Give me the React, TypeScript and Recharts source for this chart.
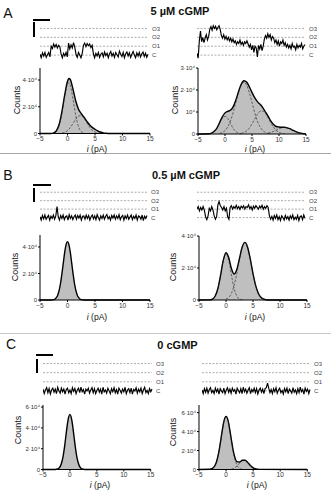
import React from 'react';
import { ComposedChart, Area, Line, XAxis, YAxis, LineChart, ReferenceLine } from 'recharts';

const FONT = '"Liberation Sans", Arial, "DejaVu Sans", sans-serif';

// ---------- titles & labels ----------
const PANEL_LETTERS = ['A', 'B', 'C'];
const PANEL_TITLES = ['5 µM cGMP', '0.5 µM cGMP', '0 cGMP'];
const LEVELS = [0, 1, 2, 3];
const LEVEL_LABELS = ['C', 'O1', 'O2', 'O3'];
const X_TICKS = [-5, 0, 5, 10, 15];

// ---------- single-channel traces (levels: C=0, O1=1, O2=2, O3=3) ----------
const TRACE_A_L = [0.1,-0.3,0.25,-0.1,0.3,-0.25,0.05,0.3,-0.2,
 1.0,0.75,1.25,0.9,1.2,0.8,1.1,0.95,
 0.1,-0.3,0.2,-0.1,0.3,-0.2,
 1.35,0.7,1.15,0.8,1.4,0.9,
 0.1,-0.25,0.3,0.0,-0.3,0.2,
 1.1,1.35,0.95,1.3,1.05,1.25,0.85,1.1,
 0.15,-0.3,0.2,-0.1,0.3,-0.25,0.1,0.25,-0.2,0.35,-0.05,0.2,-0.3,0.15,0.4,-0.1,0.2,-0.25,0.3,0.05,-0.2,0.45,0.1,-0.15,0.3,-0.3,0.15,0.35,-0.1,0.25,-0.25,0.1,0.4,0.0,-0.3,0.25,-0.1,0.3,-0.2,0.15,0.35,-0.15,0.2,-0.25,0.1];
const TRACE_A_R = [0.2,-0.35,1.6,2.7,1.5,2.0,1.4,1.9,2.3,1.7,2.1,
 2.9,3.2,2.8,3.3,3.0,3.25,2.85,3.1,3.3,2.9,
 2.2,1.9,2.3,1.8,2.1,1.7,2.0,1.6,1.9,1.5,1.8,
 1.4,1.6,1.2,1.5,1.3,1.7,1.2,1.45,1.1,1.5,1.3,1.6,1.25,
 0.9,1.2,0.6,1.1,0.3,1.0,0.8,-0.2,1.1,0.7,1.2,0.5,1.0,
 1.8,2.2,1.9,2.4,2.0,2.3,1.7,2.1,1.9,
 1.4,1.7,1.2,1.6,1.0,1.5,1.3,1.7,1.1,1.4,
 0.9,1.2,0.8,1.1,0.7,1.3,0.9,1.0,0.6,1.2,0.8,1.1,0.9,1.3,0.7,1.0,1.2];
const TRACE_B_L = [0.1,-0.3,0.25,-0.15,0.3,-0.2,0.05,0.25,-0.3,0.15,-0.1,0.3,-0.2,0.2,1.3,0.1,-0.3,0.25,-0.1,0.3,-0.25,0.1,0.2,-0.3,0.35,-0.1,0.2,-0.25,0.1,0.3,-0.2,0.25,-0.05,0.3,-0.3,0.15,0.2,-0.2,0.3,-0.1,0.25,-0.3,0.1,0.3,-0.15,0.2,-0.25,0.35,0.0,-0.3,0.2,-0.1,0.3,-0.2,0.15,0.35,-0.15,0.1,-0.3,0.25,-0.05,0.3,-0.2,0.2,-0.1,0.35,-0.25,0.1,0.25,-0.3,0.2,-0.1,0.3,-0.2,0.05,0.3,-0.25,0.15,-0.1,0.3,-0.3,0.2,0.1,-0.2,0.3,-0.35,0.15,-0.1,0.25];
const TRACE_B_R = [1.0,1.3,0.8,1.2,0.9,1.3,0.85,
 0.1,-0.25,0.2,
 1.1,0.8,1.3,0.9,
 0.2,-0.2,0.1,
 1.5,1.9,1.4,
 1.2,0.9,1.3,0.8,1.1,
 0.1,-0.2,
 1.2,1.4,1.0,1.3,1.1,1.45,1.05,1.3,0.95,1.35,1.15,1.4,1.0,1.3,1.2,1.5,1.05,1.3,0.9,1.35,1.1,1.4,1.2,1.0,1.35,1.15,1.45,1.0,1.3,1.1,1.4,1.2,
 0.2,-0.2,0.15,-0.3,0.25,-0.1,0.3,-0.25,0.1,-0.35,0.2,0.0,-0.3,0.25,-0.15,0.1,-0.3,0.2,-0.1,0.3,-0.25,0.05,-0.2,0.25,-0.35,0.1,0.2,-0.25,0.3,-0.1];
const TRACE_C_L = [0.2,-0.3,0.1,0.35,-0.2,0.25,-0.35,0.1,0.3,-0.15,0.2,-0.3,0.4,0.0,-0.25,0.3,-0.1,0.2,-0.35,0.15,0.3,-0.2,0.1,-0.3,0.35,-0.05,0.25,-0.3,0.1,0.3,-0.2,0.4,-0.1,0.15,-0.35,0.2,0.0,0.3,-0.25,0.1,0.35,-0.2,0.25,-0.3,0.05,0.3,-0.15,0.2,-0.35,0.4,-0.1,0.1,-0.25,0.3,0.0,-0.3,0.25,-0.1,0.35,-0.2,0.15,-0.35,0.3,0.05,-0.25,0.2,-0.1,0.4,-0.3,0.1,0.25,-0.2,0.3,-0.35,0.15,0.0,0.35,-0.25,0.2,-0.1,0.3,-0.3,0.1,0.4,-0.2,0.05,-0.3,0.25,-0.1,0.2];
const TRACE_C_R = [0.1,-0.3,0.25,-0.15,0.3,-0.25,0.15,0.35,-0.2,0.05,-0.3,0.3,-0.1,0.2,-0.35,0.25,0.0,-0.2,0.3,-0.3,0.1,0.35,-0.15,0.2,-0.25,0.3,-0.05,0.15,-0.35,0.3,0.05,-0.2,0.25,-0.3,0.4,-0.1,0.2,-0.25,0.1,0.35,-0.3,0.15,-0.1,0.3,-0.2,0.25,-0.35,0.1,0.3,-0.15,0.2,-0.3,0.25,0.35,0.85,0.3,-0.2,0.15,-0.3,0.25,-0.1,0.35,-0.25,0.1,0.3,-0.2,0.05,-0.35,0.25,-0.1,0.3,-0.3,0.2,0.0,-0.25,0.35,-0.15,0.1,-0.3,0.25,-0.2,0.4,-0.1,0.15,-0.35,0.3,-0.05,0.2,-0.3,0.15];

// ---------- amplitude histograms (current in pA, counts in 10^4) ----------
const HX_A_L = [-5,-3,-2.5,-2,-1.5,-1,-0.5,0,0.25,0.5,1,1.5,2,2.5,3,3.5,4,4.5,5,5.5,6,6.5,7,7.5,15];
const HT_A_L = [0,0,0.05,0.22,0.71,1.68,2.90,3.91,4.11,4.04,3.31,2.43,1.82,1.49,1.22,0.92,0.65,0.46,0.32,0.20,0.11,0.05,0.02,0,0];
const HC1_A_L = [null,null,0.04,0.19,0.64,1.56,2.81,3.70,3.80,3.60,2.56,1.35,0.51,0.14,0.03,null,null,null,null,null,null,null,null,null,null];
const HC2_A_L = [null,null,null,null,null,0.03,0.09,0.21,0.31,0.44,0.75,1.08,1.31,1.33,1.14,0.82,0.50,0.25,0.11,0.04,0.01,null,null,null,null];

const HX_A_R = [-5,-3,-2.5,-2,-1.5,-1,-0.5,0,0.5,1,1.5,2,2.5,3,3.5,4,4.5,5,5.5,6,6.5,7,7.5,8,8.5,9,9.5,10,10.5,11,11.5,12,12.5,13,13.5,14,14.5,15];
const HT_A_R = [0,0.01,0.04,0.12,0.27,0.52,0.78,0.96,1.03,1.08,1.23,1.54,1.92,2.26,2.42,2.36,2.15,1.89,1.65,1.47,1.35,1.20,1.0,0.80,0.59,0.43,0.34,0.32,0.31,0.31,0.28,0.24,0.18,0.12,0.075,0.04,0.015,0];
const HC1_A_R = [null,0.01,0.035,0.11,0.26,0.49,0.71,0.8,0.71,0.49,0.26,0.11,0.035,0.01,null,null,null,null,null,null,null,null,null,null,null,null,null,null,null,null,null,null,null,null,null,null,null,null];
const HC2_A_R = [null,null,null,null,null,0.026,0.067,0.155,0.32,0.585,0.97,1.43,1.88,2.22,2.35,2.22,1.88,1.43,0.97,0.585,0.32,0.155,0.067,0.026,0.01,null,null,null,null,null,null,null,null,null,null,null,null,null];
const HC3_A_R = [null,null,null,null,null,null,null,null,null,null,null,null,null,0.03,0.065,0.14,0.27,0.46,0.68,0.89,1.03,1.04,0.93,0.73,0.50,0.31,0.16,0.08,0.03,0.01,null,null,null,null,null,null,null,null];
const HC4_A_R = [null,null,null,null,null,null,null,null,null,null,null,null,null,null,null,null,null,null,null,null,null,null,null,0.04,0.075,0.12,0.18,0.24,0.28,0.30,0.28,0.24,0.18,0.12,0.075,0.04,0.015,null];

const HX_B_L = [-5,-3,-2.5,-2.25,-2,-1.75,-1.5,-1.25,-1,-0.75,-0.5,-0.25,0,0.25,0.5,0.75,1,1.25,1.5,1.75,2,2.25,2.5,3,15];
const HT_B_L = [0,0,0.03,0.08,0.19,0.40,0.76,1.30,2.02,2.83,3.62,4.19,4.4,4.19,3.62,2.83,2.02,1.30,0.76,0.40,0.19,0.08,0.03,0,0];

const HX_B_R = [-5,-3,-2.5,-2,-1.5,-1,-0.5,0,0.5,1,1.5,2,2.5,3,3.5,4,4.5,5,5.5,6,6.5,7,7.5,8,15];
const HT_B_R = [0,0.01,0.06,0.25,0.72,1.56,2.49,2.95,2.65,1.97,1.62,1.90,2.61,3.31,3.60,3.30,2.55,1.65,0.90,0.41,0.16,0.05,0.01,0,0];
const HC1_B_R = [null,0.01,0.06,0.25,0.72,1.56,2.49,2.9,2.49,1.56,0.72,0.25,0.06,0.01,null,null,null,null,null,null,null,null,null,null,null];
const HC2_B_R = [null,null,null,null,null,null,null,0.05,0.16,0.41,0.90,1.65,2.55,3.30,3.6,3.30,2.55,1.65,0.90,0.41,0.16,0.05,0.01,null,null];

const HX_C_L = [-5,-3,-2.5,-2,-1.75,-1.5,-1.25,-1,-0.75,-0.5,-0.25,0,0.25,0.5,0.75,1,1.25,1.5,1.75,2,2.5,3,15];
const HT_C_L = [0,0,0.02,0.15,0.35,0.72,1.32,2.18,3.22,4.24,5.01,5.3,5.01,4.24,3.22,2.18,1.32,0.72,0.35,0.15,0.02,0,0];

const HX_C_R = [-5,-3,-2.5,-2,-1.75,-1.5,-1.25,-1,-0.75,-0.5,-0.25,0,0.25,0.5,0.75,1,1.25,1.5,2,2.5,3,3.5,4,4.5,5,5.5,6,15];
const HT_C_R = [0,0.02,0.12,0.48,0.85,1.40,2.13,3.02,3.96,4.80,5.39,5.6,5.39,4.80,3.96,3.06,2.21,1.54,0.83,0.79,0.97,0.98,0.74,0.41,0.17,0.05,0.01,0];
const HC1_C_R = [null,0.02,0.12,0.48,0.85,1.40,2.13,3.02,3.96,4.80,5.39,5.6,5.39,4.80,3.96,3.02,2.13,1.40,0.48,0.12,0.02,null,null,null,null,null,null,null];
const HC2_C_R = [null,null,null,null,null,null,null,null,null,null,null,null,null,null,null,0.04,0.08,0.14,0.35,0.67,0.95,0.98,0.74,0.41,0.17,0.05,0.01,null];

const Y_TICKS_A_L = [0, 2, 4];
const Y_LABELS_A_L = ['0', '2·10⁴', '4·10⁴'];
const Y_TICKS_A_R = [0, 1, 2, 3];
const Y_LABELS_A_R = ['0', '10⁴', '2·10⁴', '3·10⁴'];
const Y_TICKS_B = [0, 2, 4];
const Y_LABELS_B = ['0', '2·10⁴', '4·10⁴'];
const Y_TICKS_C = [0, 2, 4, 6];
const Y_LABELS_C = ['0', '2·10⁴', '4·10⁴', '6·10⁴'];

const fmtX = (v: number) => (v < 0 ? '−' + Math.abs(v) : String(v));

function Txt({ x, y, size, bold, children, color }: any) {
  return (
    <div style={{ position: 'absolute', left: x, top: y, transform: 'translate(-50%,-50%)', fontSize: size, fontWeight: bold ? 'bold' : 'normal', whiteSpace: 'nowrap', lineHeight: 1, color: color || '#111' }}>
      {children}
    </div>
  );
}

function VTxt({ x, y, size, children }: any) {
  return (
    <div style={{ position: 'absolute', left: x, top: y, transform: 'translate(-50%,-50%) rotate(-90deg)', fontSize: size, whiteSpace: 'nowrap', lineHeight: 1, color: '#111' }}>
      {children}
    </div>
  );
}

function Bar({ x, y, w, h }: any) {
  return <div style={{ position: 'absolute', left: x, top: y, width: w, height: h, background: '#000' }} />;
}

function Trace({ left, top, plotW, ppl, values }: any) {
  const H = Math.round(4.5 * ppl);
  const MR = 22;
  const data = values.map((v: number, i: number) => ({ i, v }));
  return (
    <div style={{ position: 'absolute', left, top }}>
      <LineChart width={plotW + MR} height={H} data={data} margin={{ top: 0, right: MR, bottom: 0, left: 0 }}>
        <XAxis dataKey="i" type="number" domain={[0, values.length - 1]} hide />
        <YAxis type="number" domain={[-1, 3.5]} hide />
        {LEVELS.map((lv, k) => (
          <ReferenceLine key={k} y={lv} stroke="#8a8a8a" strokeWidth={0.7} strokeDasharray="2 1.5"
            label={{ value: LEVEL_LABELS[k], position: 'right', offset: 4, fontSize: 6, fill: '#444' }} />
        ))}
        <Line type="linear" dataKey="v" stroke="#000" strokeWidth={1.15} dot={false} isAnimationActive={false} />
      </LineChart>
    </div>
  );
}

function Hist({ plotLeft, plotTop, plotW, plotH, xs, total, comps, yMax, yTicks, yLabels }: any) {
  const YW = 30, MT = 4, XH = 12, MR = 6;
  const data = xs.map((x: number, i: number) => {
    const r: any = { x, total: total[i] };
    comps.forEach((c: any[], j: number) => { r['c' + j] = c[i]; });
    return r;
  });
  return (
    <div style={{ position: 'absolute', left: plotLeft - YW, top: plotTop - MT }}>
      <ComposedChart width={YW + plotW + MR} height={MT + plotH + XH} data={data} margin={{ top: MT, right: MR, bottom: 0, left: 0 }}>
        <XAxis dataKey="x" type="number" domain={[-5, 15]} ticks={X_TICKS} tickFormatter={fmtX} height={XH}
          tickSize={2} tickMargin={1} tick={{ fontSize: 6.5, fill: '#333' }} axisLine={{ stroke: '#000' }} tickLine={{ stroke: '#000' }} interval={0} />
        <YAxis type="number" domain={[0, yMax]} ticks={yTicks} tickFormatter={(v: number) => yLabels[yTicks.indexOf(v)]} width={YW}
          tickSize={2} tickMargin={1} tick={{ fontSize: 6, fill: '#333' }} axisLine={{ stroke: '#000' }} tickLine={{ stroke: '#000' }} interval={0} />
        <Area type="monotone" dataKey="total" stroke="#000" strokeWidth={1.4} fill="#bfbfbf" fillOpacity={1} dot={false} activeDot={false} isAnimationActive={false} />
        {comps.map((_: any, j: number) => (
          <Line key={j} type="monotone" dataKey={'c' + j} stroke="#222" strokeWidth={0.6} strokeDasharray="2.5 1.5" dot={false} activeDot={false} isAnimationActive={false} />
        ))}
      </ComposedChart>
    </div>
  );
}

export default function App() {
  const xLabel = (<span><i>i</i> (pA)</span>);
  return (
    <div style={{ position: 'absolute', left: 0, top: 0, width: 331, height: 500, background: '#fff', overflow: 'hidden', fontFamily: FONT }}>
      {/* separators */}
      <div style={{ position: 'absolute', left: 0, top: 152.5, width: 331, height: 1.5, background: '#a8a8a8' }} />
      <div style={{ position: 'absolute', left: 0, top: 332.5, width: 331, height: 1.5, background: '#c8c8c8' }} />

      {/* Panel A */}
      <Txt x={8} y={12.5} size={14}>{PANEL_LETTERS[0]}</Txt>
      <Txt x={180} y={11} size={11} bold>{PANEL_TITLES[0]}</Txt>
      <Bar x={33} y={18.5} w={17} h={2} />
      <Bar x={33} y={22} w={1.5} h={15} />
      <Trace left={40} top={24} plotW={108} ppl={8.9} values={TRACE_A_L} />
      <Trace left={197} top={24} plotW={108} ppl={8.9} values={TRACE_A_R} />
      <Hist plotLeft={40} plotTop={67.5} plotW={110} plotH={65.5} xs={HX_A_L} total={HT_A_L} comps={[HC1_A_L, HC2_A_L]} yMax={4.9} yTicks={Y_TICKS_A_L} yLabels={Y_LABELS_A_L} />
      <Hist plotLeft={198} plotTop={68} plotW={108} plotH={66} xs={HX_A_R} total={HT_A_R} comps={[HC1_A_R, HC2_A_R, HC3_A_R, HC4_A_R]} yMax={3} yTicks={Y_TICKS_A_R} yLabels={Y_LABELS_A_R} />
      <VTxt x={17} y={100} size={9}>Counts</VTxt>
      <VTxt x={175} y={100} size={9}>Counts</VTxt>
      <Txt x={97} y={149} size={8.5}>{xLabel}</Txt>
      <Txt x={255} y={149} size={8.5}>{xLabel}</Txt>

      {/* Panel B */}
      <Txt x={8} y={175} size={14}>{PANEL_LETTERS[1]}</Txt>
      <Txt x={186} y={175} size={11} bold>{PANEL_TITLES[1]}</Txt>
      <Bar x={33} y={183.5} w={18} h={2} />
      <Bar x={33} y={188} w={1.5} h={14} />
      <Trace left={40} top={188.4} plotW={107} ppl={8.55} values={TRACE_B_L} />
      <Trace left={197} top={188.4} plotW={108} ppl={8.55} values={TRACE_B_R} />
      <Hist plotLeft={40} plotTop={235} plotW={110} plotH={65} xs={HX_B_L} total={HT_B_L} comps={[]} yMax={4.9} yTicks={Y_TICKS_B} yLabels={Y_LABELS_B} />
      <Hist plotLeft={199} plotTop={236} plotW={108} plotH={64} xs={HX_B_R} total={HT_B_R} comps={[HC1_B_R, HC2_B_R]} yMax={4} yTicks={Y_TICKS_B} yLabels={Y_LABELS_B} />
      <VTxt x={15} y={267} size={9}>Counts</VTxt>
      <VTxt x={173} y={267} size={9}>Counts</VTxt>
      <Txt x={97} y={317} size={8.5}>{xLabel}</Txt>
      <Txt x={255} y={317} size={8.5}>{xLabel}</Txt>

      {/* Panel C */}
      <Txt x={11} y={344} size={14}>{PANEL_LETTERS[2]}</Txt>
      <Txt x={177.5} y={345} size={11} bold>{PANEL_TITLES[2]}</Txt>
      <Bar x={36} y={353.5} w={17} h={2} />
      <Bar x={36} y={359} w={1.5} h={14} />
      <Trace left={43} top={358.8} plotW={109} ppl={9} values={TRACE_C_L} />
      <Trace left={202} top={358.8} plotW={108} ppl={9} values={TRACE_C_R} />
      <Hist plotLeft={43.3} plotTop={405} plotW={107.7} plotH={64.5} xs={HX_C_L} total={HT_C_L} comps={[]} yMax={6.2} yTicks={Y_TICKS_C} yLabels={Y_LABELS_C} />
      <Hist plotLeft={199} plotTop={405} plotW={108.3} plotH={64.5} xs={HX_C_R} total={HT_C_R} comps={[HC1_C_R, HC2_C_R]} yMax={6.8} yTicks={Y_TICKS_C} yLabels={Y_LABELS_C} />
      <VTxt x={18} y={430} size={9}>Counts</VTxt>
      <VTxt x={173} y={432} size={9}>Counts</VTxt>
      <Txt x={100} y={485} size={8.5}>{xLabel}</Txt>
      <Txt x={257} y={485} size={8.5}>{xLabel}</Txt>
    </div>
  );
}
